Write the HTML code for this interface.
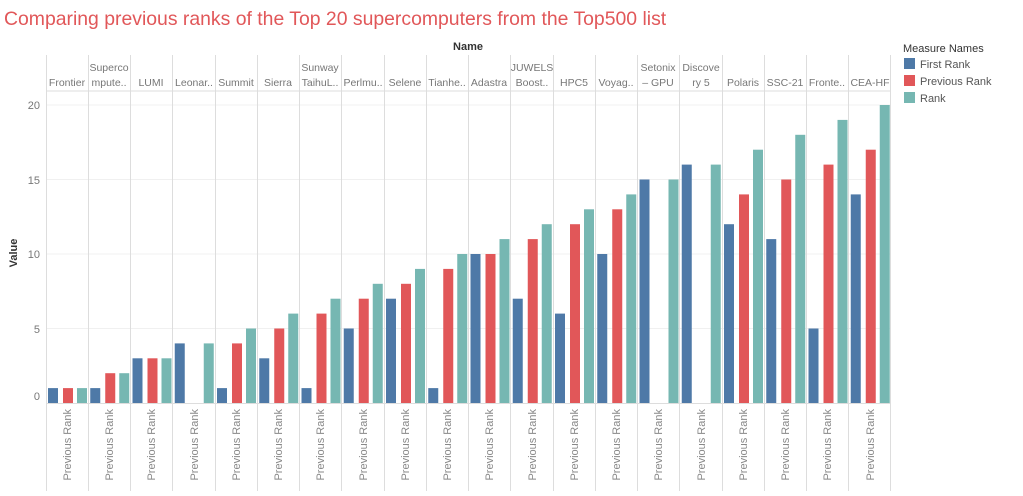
<!DOCTYPE html>
<html><head><meta charset="utf-8"><style>
body{margin:0;background:#fff}
svg text{font-family:"Liberation Sans",sans-serif}
</style></head><body>
<svg width="1023" height="491" viewBox="0 0 1023 491" xmlns="http://www.w3.org/2000/svg">
<text x="4" y="25" font-size="19.4" fill="#e15759">Comparing previous ranks of the Top 20 supercomputers from the Top500 list</text>
<text x="468" y="50" font-size="11" font-weight="bold" fill="#333" text-anchor="middle">Name</text>
<text x="17" y="253" font-size="11" font-weight="bold" fill="#333" text-anchor="middle" transform="rotate(-90 17 253)">Value</text>
<g stroke="#f0f0f0" stroke-width="1">
<line x1="46" x2="891" y1="105" y2="105"/><line x1="46" x2="891" y1="179.5" y2="179.5"/><line x1="46" x2="891" y1="254" y2="254"/><line x1="46" x2="891" y1="328.5" y2="328.5"/>
</g>
<g font-size="11" fill="#777" text-anchor="end">
<text x="40" y="109">20</text><text x="40" y="184">15</text><text x="40" y="258">10</text><text x="40" y="333">5</text><text x="40" y="400">0</text>
</g>
<g stroke="#ddd" stroke-width="1">
<line x1="46" x2="891" y1="91" y2="91"/>
<line x1="46" x2="891" y1="403.5" y2="403.5"/>
<line x1="46.5" x2="46.5" y1="55" y2="491"/><line x1="88.5" x2="88.5" y1="55" y2="491"/><line x1="130.5" x2="130.5" y1="55" y2="491"/><line x1="172.5" x2="172.5" y1="55" y2="491"/><line x1="215.5" x2="215.5" y1="55" y2="491"/><line x1="257.5" x2="257.5" y1="55" y2="491"/><line x1="299.5" x2="299.5" y1="55" y2="491"/><line x1="341.5" x2="341.5" y1="55" y2="491"/><line x1="384.5" x2="384.5" y1="55" y2="491"/><line x1="426.5" x2="426.5" y1="55" y2="491"/><line x1="468.5" x2="468.5" y1="55" y2="491"/><line x1="510.5" x2="510.5" y1="55" y2="491"/><line x1="553.5" x2="553.5" y1="55" y2="491"/><line x1="595.5" x2="595.5" y1="55" y2="491"/><line x1="637.5" x2="637.5" y1="55" y2="491"/><line x1="679.5" x2="679.5" y1="55" y2="491"/><line x1="722.5" x2="722.5" y1="55" y2="491"/><line x1="764.5" x2="764.5" y1="55" y2="491"/><line x1="806.5" x2="806.5" y1="55" y2="491"/><line x1="848.5" x2="848.5" y1="55" y2="491"/><line x1="890.5" x2="890.5" y1="55" y2="491"/>
</g>
<g font-size="10.5" fill="#777" text-anchor="middle">
<text x="67" y="86">Frontier</text>
<text x="109" y="71">Superco</text><text x="109" y="86">mpute..</text>
<text x="151" y="86">LUMI</text>
<text x="194" y="86">Leonar..</text>
<text x="236" y="86">Summit</text>
<text x="278" y="86">Sierra</text>
<text x="320" y="71">Sunway</text><text x="320" y="86">TaihuL..</text>
<text x="363" y="86">Perlmu..</text>
<text x="405" y="86">Selene</text>
<text x="447" y="86">Tianhe..</text>
<text x="489" y="86">Adastra</text>
<text x="532" y="71">JUWELS</text><text x="532" y="86">Boost..</text>
<text x="574" y="86">HPC5</text>
<text x="616" y="86">Voyag..</text>
<text x="658" y="71">Setonix</text><text x="658" y="86">– GPU</text>
<text x="701" y="71">Discove</text><text x="701" y="86">ry 5</text>
<text x="743" y="86">Polaris</text>
<text x="785" y="86">SSC-21</text>
<text x="827" y="86">Fronte..</text>
<text x="870" y="86">CEA-HF</text>
</g>
<g font-size="11" fill="#888" text-anchor="end">
<text transform="translate(71 409) rotate(-90)">Previous Rank</text>
<text transform="translate(113 409) rotate(-90)">Previous Rank</text>
<text transform="translate(155 409) rotate(-90)">Previous Rank</text>
<text transform="translate(198 409) rotate(-90)">Previous Rank</text>
<text transform="translate(240 409) rotate(-90)">Previous Rank</text>
<text transform="translate(282 409) rotate(-90)">Previous Rank</text>
<text transform="translate(324 409) rotate(-90)">Previous Rank</text>
<text transform="translate(367 409) rotate(-90)">Previous Rank</text>
<text transform="translate(409 409) rotate(-90)">Previous Rank</text>
<text transform="translate(451 409) rotate(-90)">Previous Rank</text>
<text transform="translate(493 409) rotate(-90)">Previous Rank</text>
<text transform="translate(536 409) rotate(-90)">Previous Rank</text>
<text transform="translate(578 409) rotate(-90)">Previous Rank</text>
<text transform="translate(620 409) rotate(-90)">Previous Rank</text>
<text transform="translate(662 409) rotate(-90)">Previous Rank</text>
<text transform="translate(705 409) rotate(-90)">Previous Rank</text>
<text transform="translate(747 409) rotate(-90)">Previous Rank</text>
<text transform="translate(789 409) rotate(-90)">Previous Rank</text>
<text transform="translate(831 409) rotate(-90)">Previous Rank</text>
<text transform="translate(874 409) rotate(-90)">Previous Rank</text>
</g>
<defs>
<style>.b{fill:#4e79a7}.r{fill:#e15759}.t{fill:#76b7b2}</style>
</defs>
<g transform="translate(46 0)"><rect class="b" x="2" y="388.1" width="10" height="14.9"/><rect class="r" x="17" y="388.1" width="10" height="14.9"/><rect class="t" x="31" y="388.1" width="10" height="14.9"/></g>
<g transform="translate(88.25 0)"><rect class="b" x="2" y="388.1" width="10" height="14.9"/><rect class="r" x="17" y="373.2" width="10" height="29.8"/><rect class="t" x="31" y="373.2" width="10" height="29.8"/></g>
<g transform="translate(130.5 0)"><rect class="b" x="2" y="358.3" width="10" height="44.7"/><rect class="r" x="17" y="358.3" width="10" height="44.7"/><rect class="t" x="31" y="358.3" width="10" height="44.7"/></g>
<g transform="translate(172.75 0)"><rect class="b" x="2" y="343.4" width="10" height="59.6"/><rect class="t" x="31" y="343.4" width="10" height="59.6"/></g>
<g transform="translate(215 0)"><rect class="b" x="2" y="388.1" width="10" height="14.9"/><rect class="r" x="17" y="343.4" width="10" height="59.6"/><rect class="t" x="31" y="328.5" width="10" height="74.5"/></g>
<g transform="translate(257.25 0)"><rect class="b" x="2" y="358.3" width="10" height="44.7"/><rect class="r" x="17" y="328.5" width="10" height="74.5"/><rect class="t" x="31" y="313.6" width="10" height="89.4"/></g>
<g transform="translate(299.5 0)"><rect class="b" x="2" y="388.1" width="10" height="14.9"/><rect class="r" x="17" y="313.6" width="10" height="89.4"/><rect class="t" x="31" y="298.7" width="10" height="104.3"/></g>
<g transform="translate(341.75 0)"><rect class="b" x="2" y="328.5" width="10" height="74.5"/><rect class="r" x="17" y="298.7" width="10" height="104.3"/><rect class="t" x="31" y="283.8" width="10" height="119.2"/></g>
<g transform="translate(384 0)"><rect class="b" x="2" y="298.7" width="10" height="104.3"/><rect class="r" x="17" y="283.8" width="10" height="119.2"/><rect class="t" x="31" y="268.9" width="10" height="134.1"/></g>
<g transform="translate(426.25 0)"><rect class="b" x="2" y="388.1" width="10" height="14.9"/><rect class="r" x="17" y="268.9" width="10" height="134.1"/><rect class="t" x="31" y="254" width="10" height="149"/></g>
<g transform="translate(468.5 0)"><rect class="b" x="2" y="254" width="10" height="149"/><rect class="r" x="17" y="254" width="10" height="149"/><rect class="t" x="31" y="239.1" width="10" height="163.9"/></g>
<g transform="translate(510.75 0)"><rect class="b" x="2" y="298.7" width="10" height="104.3"/><rect class="r" x="17" y="239.1" width="10" height="163.9"/><rect class="t" x="31" y="224.2" width="10" height="178.8"/></g>
<g transform="translate(553 0)"><rect class="b" x="2" y="313.6" width="10" height="89.4"/><rect class="r" x="17" y="224.2" width="10" height="178.8"/><rect class="t" x="31" y="209.3" width="10" height="193.7"/></g>
<g transform="translate(595.25 0)"><rect class="b" x="2" y="254" width="10" height="149"/><rect class="r" x="17" y="209.3" width="10" height="193.7"/><rect class="t" x="31" y="194.4" width="10" height="208.6"/></g>
<g transform="translate(637.5 0)"><rect class="b" x="2" y="179.5" width="10" height="223.5"/><rect class="t" x="31" y="179.5" width="10" height="223.5"/></g>
<g transform="translate(679.75 0)"><rect class="b" x="2" y="164.6" width="10" height="238.4"/><rect class="t" x="31" y="164.6" width="10" height="238.4"/></g>
<g transform="translate(722 0)"><rect class="b" x="2" y="224.2" width="10" height="178.8"/><rect class="r" x="17" y="194.4" width="10" height="208.6"/><rect class="t" x="31" y="149.7" width="10" height="253.3"/></g>
<g transform="translate(764.25 0)"><rect class="b" x="2" y="239.1" width="10" height="163.9"/><rect class="r" x="17" y="179.5" width="10" height="223.5"/><rect class="t" x="31" y="134.8" width="10" height="268.2"/></g>
<g transform="translate(806.5 0)"><rect class="b" x="2" y="328.5" width="10" height="74.5"/><rect class="r" x="17" y="164.6" width="10" height="238.4"/><rect class="t" x="31" y="119.9" width="10" height="283.1"/></g>
<g transform="translate(848.75 0)"><rect class="b" x="2" y="194.4" width="10" height="208.6"/><rect class="r" x="17" y="149.7" width="10" height="253.3"/><rect class="t" x="31" y="105" width="10" height="298"/></g>
<text x="903" y="52" font-size="11" fill="#333">Measure Names</text>
<rect class="b" x="904" y="58" width="11" height="11"/><text x="920" y="68" font-size="11" fill="#555">First Rank</text>
<rect class="r" x="904" y="75" width="11" height="11"/><text x="920" y="85" font-size="11" fill="#555">Previous Rank</text>
<rect class="t" x="904" y="92" width="11" height="11"/><text x="920" y="102" font-size="11" fill="#555">Rank</text>
</svg>
</body></html>
